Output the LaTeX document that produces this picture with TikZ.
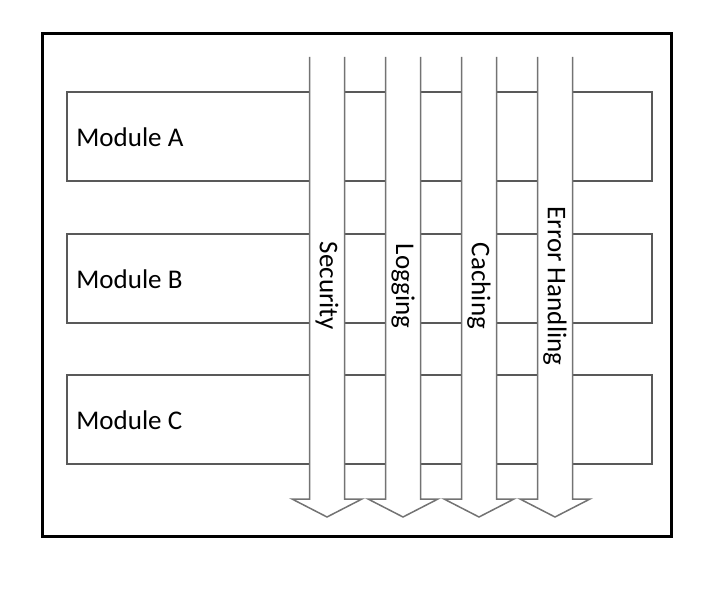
\documentclass[tikz,border=0pt]{standalone}
\usepackage{fontspec}
\setmainfont{Carlito}

\begin{document}
\begin{tikzpicture}[x=0.5pt,y=-0.5pt,
  modbox/.style={draw=black!65,line width=0.75pt},
  modtext/.style={anchor=west,inner sep=0pt,font=\fontsize{13.5}{16}\selectfont},
  layer/.style={draw=black!55,line width=0.75pt,fill=white},
  layertext/.style={rotate=-90,inner sep=0pt,font=\fontsize{13.5}{16}\selectfont}]
\useasboundingbox (0,0) rectangle (728,614);
\draw[line width=1.5pt] (42,34) rectangle (671,536);
\draw[modbox] (67,92) rectangle (652,181);
\draw[modbox] (67,234) rectangle (652,323);
\draw[modbox] (67,375) rectangle (652,464);
\node[modtext] (modA) at (76,137) {Module A};
\node[modtext] (modB) at (76,279) {Module B};
\node[modtext] (modC) at (76,420) {Module C};
\foreach \c/\name/\txt in {327/sec/Security,403/log/Logging,479/cache/Caching,555/err/Error Handling}
{
  \draw[layer] (\c-17.5,57) -- (\c-17.5,499) -- (\c-35,499) -- (\c,517) -- (\c+35,499) -- (\c+17.5,499) -- (\c+17.5,57);
  \node[layertext] (\name) at (\c,286) {\txt};
}
\end{tikzpicture}
\end{document}
